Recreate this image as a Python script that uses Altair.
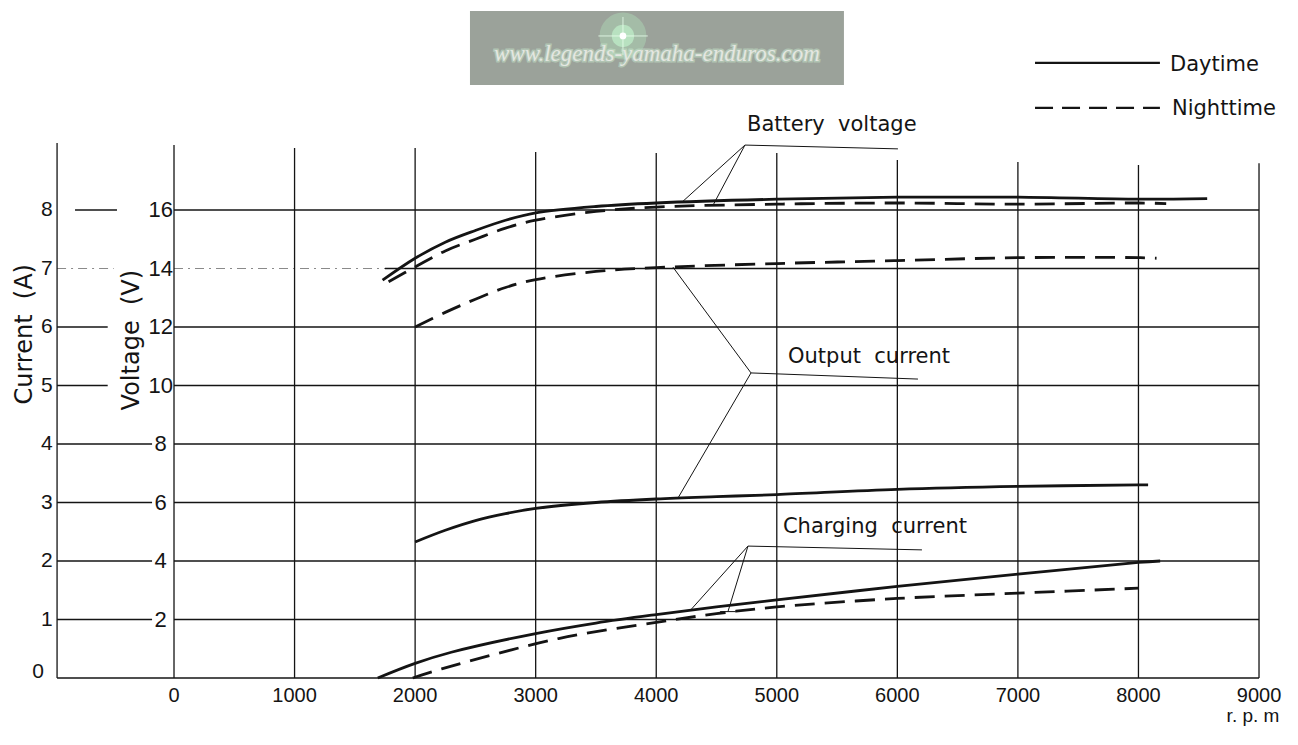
import altair as alt
import pandas as pd

# ---------------- data (x = engine speed r.p.m, y = voltage-scale units; Current(A) = V/2) -------------
bat_day_rpm = [1730, 2000, 2250, 2500, 2750, 3000, 3500, 4000, 5000, 6000, 7000, 8000, 8570]
bat_day_v = [13.6, 14.35, 14.9, 15.3, 15.65, 15.9, 16.12, 16.24, 16.37, 16.44, 16.44, 16.37, 16.39]
bat_night_rpm = [1780, 2000, 2250, 2500, 2750, 3000, 3500, 4000, 5000, 6000, 7000, 8000, 8230]
bat_night_v = [13.55, 14.05, 14.6, 15.0, 15.38, 15.65, 15.95, 16.1, 16.2, 16.24, 16.2, 16.24, 16.22]
out_day_rpm = [2000, 2250, 2500, 2750, 3000, 3500, 4000, 4500, 5000, 6000, 7000, 8000, 8080]
out_day_v = [4.65, 5.05, 5.38, 5.62, 5.8, 6.0, 6.12, 6.2, 6.27, 6.45, 6.55, 6.6, 6.6]
out_night_rpm = [2000, 2250, 2500, 2750, 3000, 3500, 4000, 5000, 6000, 7000, 8000, 8150]
out_night_v = [12.0, 12.5, 12.95, 13.35, 13.62, 13.9, 14.03, 14.17, 14.27, 14.37, 14.37, 14.35]
chg_day_rpm = [1690, 2000, 2300, 3000, 3500, 4000, 4500, 5000, 6000, 7000, 8000, 8180]
chg_day_v = [0.0, 0.5, 0.88, 1.52, 1.88, 2.17, 2.43, 2.67, 3.13, 3.55, 3.95, 4.0]
chg_night_rpm = [1980, 2220, 3190, 4000, 4500, 5000, 6000, 7000, 8000]
chg_night_v = [0.0, 0.31, 1.35, 1.9, 2.2, 2.43, 2.72, 2.9, 3.07]

rpm_ticks = [0, 1000, 2000, 3000, 4000, 5000, 6000, 7000, 8000, 9000]
rpm_grid_top = [18.22, 18.12, 18.12, 17.98, 17.95, 17.95, 17.71, 17.64, 17.54, 17.6]
volt_ticks = [2, 4, 6, 8, 10, 12, 14, 16]
current_ticks = [1, 2, 3, 4, 5, 6, 7, 8]

series_labels = ["Battery\u00a0\u00a0voltage", "Output\u00a0\u00a0current", "Charging\u00a0\u00a0current"]
legend_labels = ["Daytime", "Nighttime"]
axis_titles = ["Current\u00a0\u00a0(A)", "Voltage\u00a0\u00a0(V)"]
watermark = "www.legends-yamaha-enduros.com"

# annotation anchor points (data units)
CUR_AXIS = -970
bat_leader = [(4736, 18.22, 6005, 18.09), (4736, 18.22, 4214, 16.27), (4736, 18.22, 4471, 16.16)]
out_leader = [(4786, 10.43, 6171, 10.22), (4786, 10.43, 4180, 6.15), (4786, 10.43, 4138, 14.05)]
chg_leader = [(4761, 4.51, 6204, 4.38), (4761, 4.51, 4280, 2.3), (4761, 4.51, 4595, 2.27),
              (4530, 2.27, 4660, 2.27)]

# ---------------- scales ----------------
XMIN, XMAX = -1377, 9257
YMIN, YMAX = -2.017, 22.906
xs = alt.Scale(domain=[XMIN, XMAX], nice=False, zero=False)
ys = alt.Scale(domain=[YMIN, YMAX], nice=False, zero=False)
INK = "#141414"
FONT = "Liberation Sans"
WIDE = "DejaVu Sans"


def X(f="x"):
    return alt.X(f + ":Q", scale=xs, axis=None)


def Y(f="y"):
    return alt.Y(f + ":Q", scale=ys, axis=None)


def seg_layer(rows, **kw):
    df = pd.DataFrame(rows, columns=["x", "y", "x2", "y2"])
    return alt.Chart(df).mark_rule(**kw).encode(
        x=X(), y=Y(), x2=alt.X2("x2:Q"), y2=alt.Y2("y2:Q"))


# grid
grid_rows = []
for r, top in zip(rpm_ticks, rpm_grid_top):
    grid_rows.append((r, 0, r, top))
for v in volt_ticks:
    if v == 14:
        grid_rows.append((1750, v, 9000, v))
    else:
        grid_rows.append((0, v, 9000, v))
grid_rows.append((CUR_AXIS, 0, 9000, 0))
grid_rows.append((CUR_AXIS, 0, CUR_AXIS, 18.29))
# current scale tick lines
for c in current_ticks:
    v = 2 * c
    if c == 8:
        grid_rows.append((-821, v, -473, v))
    elif c in (6, 5):
        grid_rows.append((CUR_AXIS, v, -550, v))
    elif c <= 4:
        grid_rows.append((CUR_AXIS, v, -182, v))
grid = seg_layer(grid_rows, color=INK, strokeWidth=1.3)
faint = seg_layer([(CUR_AXIS, 14, -500, 14), (0, 14, 1750, 14)], color="#8a8a8a",
                  strokeWidth=1.0, strokeDash=[9, 5, 2, 5])

leaders = seg_layer(bat_leader + out_leader + chg_leader, color=INK, strokeWidth=1.0)

# curves
curve_rows = []
for name, rr, vv, style in [
    ("bat_day", bat_day_rpm, bat_day_v, "day"),
    ("bat_night", bat_night_rpm, bat_night_v, "night"),
    ("out_day", out_day_rpm, out_day_v, "day"),
    ("out_night", out_night_rpm, out_night_v, "night"),
    ("chg_day", chg_day_rpm, chg_day_v, "day"),
    ("chg_night", chg_night_rpm, chg_night_v, "night"),
]:
    for i, (r, v) in enumerate(zip(rr, vv)):
        curve_rows.append({"s": name, "style": style, "x": r, "y": v, "o": i})
curves = pd.DataFrame(curve_rows)

day_lines = alt.Chart(curves).transform_filter(alt.datum.style == "day").mark_line(
    color=INK, strokeWidth=2.8, interpolate="catmull-rom").encode(
    x=X(), y=Y(), detail="s:N", order="o:Q")
night_lines = alt.Chart(curves).transform_filter(alt.datum.style == "night").mark_line(
    color=INK, strokeWidth=2.8, interpolate="catmull-rom", strokeDash=[20, 10]).encode(
    x=X(), y=Y(), detail="s:N", order="o:Q")

# legend samples
leg_solid = seg_layer([(7142, 21.03, 8178, 21.03)], color=INK, strokeWidth=2.4)
leg_dash = seg_layer([(7142, 19.49, 8178, 19.49)], color=INK, strokeWidth=2.4, strokeDash=[18, 9])


def text_layer(rows, **kw):
    df = pd.DataFrame(rows, columns=["x", "y", "t"])
    base = dict(font=FONT, color=INK, baseline="middle")
    base.update(kw)
    return alt.Chart(df).mark_text(**base).encode(x=X(), y=Y(), text="t:N")


cur_lbl = text_layer([(-1055, 2 * c, str(c)) for c in current_ticks] + [(-1128, 0.2, "0")],
                     fontSize=21, align="center")
volt_lbl = text_layer([(-110, v, str(v)) for v in volt_ticks], fontSize=22, align="center")
rpm_lbl = text_layer([(r, -0.6, str(r)) for r in rpm_ticks], fontSize=20, align="center")
rpm_unit = text_layer([(8950, -1.3, "r. p. m")], fontSize=19, align="center")
titles = text_layer([(-1240, 11.75, axis_titles[0]), (-345, 11.55, axis_titles[1])],
                    fontSize=24, align="center", angle=270, font=WIDE)
ann = text_layer([(4753, 18.9, series_labels[0]), (5093, 10.97, series_labels[1]),
                  (5051, 5.16, series_labels[2])], fontSize=21, align="left", font=WIDE)
leg_txt = text_layer([(8262, 20.96, legend_labels[0]), (8278, 19.45, legend_labels[1])],
                     fontSize=21, align="left", font=WIDE)

# watermark banner
wm_box = alt.Chart(pd.DataFrame([{"x": 2455, "x2": 5557, "y": 20.27, "y2": 22.8}])).mark_rect(
    color="#9ba29a").encode(x=X(), x2="x2:Q", y=Y(), y2="y2:Q")
star_df = pd.DataFrame([{"x": 3724, "y": 21.95}])
glow1 = alt.Chart(star_df).mark_circle(color="#b8f7c6", opacity=0.3, size=2200).encode(x=X(), y=Y())
glow2 = alt.Chart(star_df).mark_circle(color="#c9ffd6", opacity=0.55, size=500).encode(x=X(), y=Y())
glow3 = alt.Chart(star_df).mark_circle(color="#ffffff", opacity=1, size=45).encode(x=X(), y=Y())
rays = seg_layer([(3520, 21.95, 3930, 21.95), (3724, 21.3, 3724, 22.6)], color="#e8ffee",
                 strokeWidth=1.0, opacity=0.8)
wm_glow = text_layer([(4006, 21.35, watermark)], fontSize=23, align="center", font="Liberation Serif",
                     fontStyle="italic", color="#cdeed3", stroke="#cdeed3", strokeWidth=3, opacity=0.45)
wm_txt = text_layer([(4006, 21.35, watermark)], fontSize=23, align="center", font="Liberation Serif",
                    fontStyle="italic", color="#e4e7e1")

chart = alt.layer(
    wm_box, glow1, glow2, rays, glow3, wm_glow, wm_txt,
    faint, grid, leaders, day_lines, night_lines, leg_solid, leg_dash,
    cur_lbl, volt_lbl, rpm_lbl, rpm_unit, titles, ann, leg_txt,
).properties(
    width=1282, height=729, padding=0,
    autosize=alt.AutoSizeParams(type="none"),
    background="white",
).configure_view(strokeWidth=0)

chart.save("out.html", embed_options={"renderer": "svg", "actions": False})
